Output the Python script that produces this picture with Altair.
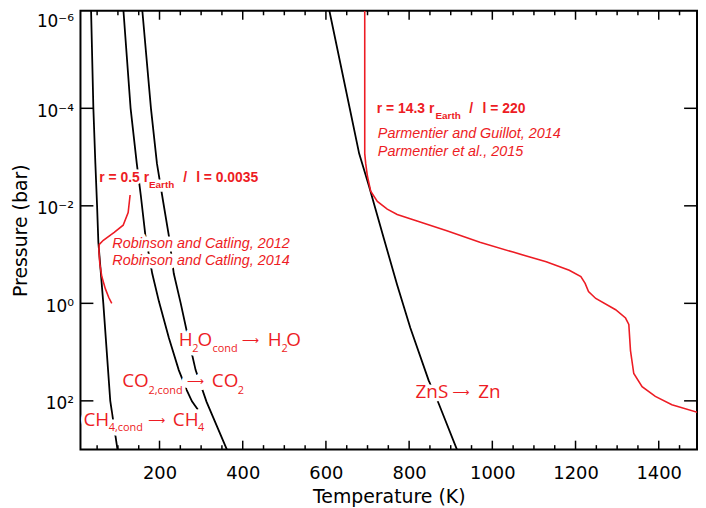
import altair as alt
import pandas as pd

RED = "#ED1C24"
W = 621
H = 442

# ---------------- curves (Temperature in K, Pressure in bar) ----------------
ch4_T = [35.5, 41.0, 45.8, 49.9, 53.0, 64.9, 81.6, 99.0]
ch4_P = [1e-6, 1e-4, 1.35e-3, 1e-2, 5.6e-2, 1.0, 100, 1000]

co2_T = [113.3, 130.5, 145.3, 154.9, 165.8, 182.5, 198.5, 222.4, 246.3, 265.4, 278.0, 292.0]
co2_P = [1e-6, 1e-4, 1.35e-3, 6.0e-3, 3.9e-2, 0.245, 0.91, 5.1, 23.4, 60, 102, 150]

h2o_T = [158.7, 179.4, 193.8, 208.1, 222.4, 234.3, 251.0, 265.4, 286.8, 313.1, 362.0]
h2o_P = [1e-6, 1e-4, 1.35e-3, 7.6e-3, 4.1e-2, 0.245, 1.0, 3.7, 23.4, 105, 1000]

zns_T = [608.3, 657.2, 679.9, 703.8, 739.6, 771.3, 803.0, 846.9, 870.8, 915.0]
zns_P = [1e-6, 1e-4, 8.5e-4, 4.0e-3, 4.8e-2, 0.42, 3.2, 38, 112, 1000]

hot_T = [693.3, 693.3, 695.6, 699.7, 707.6, 723.6, 747.4, 771.3, 819.0, 890.6, 970.1,
         1049.8, 1129.5, 1184.9, 1212.8, 1223.1, 1231.2, 1248.6, 1296.4, 1320.2, 1328.1,
         1332.1, 1340.0, 1360.0, 1391.8, 1431.6, 1499.2]
hot_P = [1e-6, 8.5e-4, 1.35e-3, 2.45e-3, 5.0e-3, 8.1e-3, 1.17e-2, 1.51e-2, 2.04e-2, 3.24e-2,
         5.6e-2, 8.9e-2, 0.141, 0.209, 0.282, 0.389, 0.575, 0.794, 1.35, 2.0, 2.7, 9.3,
         27.5, 51, 81, 120, 178]

cold_T = [129.3, 124.6, 112.6, 91.1, 64.9, 55.3, 54.2, 56.5, 61.3, 69.7, 78.0, 85.2]
cold_P = [6.0e-3, 1.38e-2, 2.5e-2, 3.5e-2, 5.1e-2, 6.2e-2, 8.1e-2, 0.155, 0.282, 0.50, 0.76, 1.0]

# ---------------- axis ticks ----------------
x_major = [200, 400, 600, 800, 1000, 1200, 1400]
x_minor = [50, 100, 150, 250, 300, 350, 450, 500, 550, 650, 700, 750, 850, 900, 950,
           1050, 1100, 1150, 1250, 1300, 1350, 1450]
y_major = [1e-4, 1e-2, 1, 1e2]
y_tick_values = [1e-6, 1e-4, 1e-2, 1, 1e2]
y_tick_labels = ["10⁻⁶", "10⁻⁴", "10⁻²", "10⁰", "10²"]

# ---------------- annotations ----------------
bold_text = ["r = 0.5 r", "/", "l = 0.0035", "r = 14.3 r", "/", "l = 220"]
bold_T = [55.3, 257.0, 288.0, 722.4, 944.3, 976.5]
bold_P = [2.72e-3, 2.72e-3, 2.72e-3, 1.05e-4, 1.05e-4, 1.05e-4]

boldsub_text = ["Earth", "Earth"]
boldsub_T = [174.7, 863.2]
boldsub_P = [3.82e-3, 1.47e-4]

ital_text = ["Robinson and Catling, 2012", "Robinson and Catling, 2014",
             "Parmentier and Guillot, 2014", "Parmentier et al., 2015"]
ital_T = [86.4, 86.4, 724.8, 724.8]
ital_P = [0.0614, 0.135, 3.43e-4, 7.93e-4]

big_text = ["H", "O", "H", "O", "CO", "CO", "CH", "CH", "ZnS", "Zn"]
big_T = [246.3, 291.6, 460.3, 504.7, 110.2, 325.7, 17.2, 231.9, 815.4, 966.3]
big_P = [5.68, 5.68, 5.68, 5.68, 39.4, 39.4, 242, 242, 66.7, 66.7]

sub_text = ["2", "cond", "2", "2,cond", "2", "4,cond", "4"]
sub_T = [278.5, 327.4, 493.3, 173.5, 388.3, 78.0, 292.8]
sub_P = [8.49, 8.49, 8.49, 61.9, 61.9, 356, 356]

arrow_text = ["⟶", "⟶", "⟶", "⟶"]
arrow_T = [397.8, 265.4, 172.3, 903.7]
arrow_P = [5.68, 39.4, 242, 66.7]

# ---------------- scales / axes ----------------
xs = alt.Scale(domain=[10, 1492], nice=False, zero=False)
ys = alt.Scale(type="log", domain=[1e-6, 1e3], reverse=True, nice=False)

expr = "'%s'" % y_tick_labels[-1]
for v, lab in reversed(list(zip(y_tick_values[:-1], y_tick_labels[:-1]))):
    expr = "datum.value < %g ? '%s' : %s" % (v * 3, lab, expr)

xa = alt.Axis(values=x_major, format="d", title="Temperature (K)", labelPadding=15,
              titlePadding=5, labelFontSize=18, titleFontSize=19)
ya = alt.Axis(values=y_tick_values, labelExpr=expr, title="Pressure (bar)", labelPadding=7,
              labelFlush=True, labelOffset=3, titlePadding=6, labelFontSize=17,
              titleFontSize=19)

X = alt.X("T:Q", scale=xs, axis=xa)
Y = alt.Y("P:Q", scale=ys, axis=ya)


def curve(T, P, color, width):
    df = pd.DataFrame({"T": T, "P": P, "i": list(range(len(T)))})
    return alt.Chart(df).mark_line(clip=True, color=color, strokeWidth=width).encode(
        x=X, y=Y, order="i:Q")


def texts(txt, T, P, size, font, weight, style, halo_w, halo=False):
    df = pd.DataFrame({"text": txt, "T": T, "P": P})
    kw = dict(align="left", baseline="middle", font=font, fontSize=size,
              fontWeight=weight, fontStyle=style)
    if halo:
        m = alt.Chart(df).mark_text(fill="white", stroke="white", strokeWidth=halo_w,
                                    strokeJoin="round", clip=True, **kw)
    else:
        m = alt.Chart(df).mark_text(fill=RED, **kw)
    return m.encode(x=X, y=Y, text="text:N")


def xticks(vals, y0, y1):
    df = pd.DataFrame({"T": vals})
    return alt.Chart(df).mark_rule(color="black", strokeWidth=1.5).encode(
        x=X, y=alt.value(y0), y2=alt.value(y1))


def yticks(vals, x0, x1):
    df = pd.DataFrame({"P": vals})
    return alt.Chart(df).mark_rule(color="black", strokeWidth=1.5).encode(
        y=Y, x=alt.value(x0), x2=alt.value(x1))


layers = [
    xticks(x_major, 0, 9), xticks(x_minor, 0, 4.5),
    xticks(x_major, H, H - 9), xticks(x_minor, H, H - 4.5),
    yticks(y_major, 0, 13), yticks(y_major, W - 13, W),
    curve(ch4_T, ch4_P, "black", 1.8),
    curve(co2_T, co2_P, "black", 1.8),
    curve(h2o_T, h2o_P, "black", 1.8),
    curve(zns_T, zns_P, "black", 1.8),
    curve(hot_T, hot_P, RED, 1.6),
    curve(cold_T, cold_P, RED, 1.6),
]

groups = [
    (bold_text, bold_T, bold_P, 14, "Liberation Sans", "bold", "normal", 5),
    (boldsub_text, boldsub_T, boldsub_P, 10, "Liberation Sans", "bold", "normal", 7),
    (ital_text, ital_T, ital_P, 14.5, "Liberation Sans", "normal", "italic", 7),
    (big_text, big_T, big_P, 19, "Open Sans", "normal", "normal", 7),
    (sub_text, sub_T, sub_P, 11, "Open Sans", "normal", "normal", 7),
    (arrow_text, arrow_T, arrow_P, 12, "DejaVu Sans", "normal", "normal", 12),
]
for g in groups:
    layers.append(texts(*g, halo=True))
for g in groups:
    layers.append(texts(*g))

chart = alt.layer(*layers).properties(
    width=W, height=H,
    padding={"left": 73, "top": 1, "right": 1, "bottom": 57},
    autosize=alt.AutoSizeParams(type="none"),
).configure_view(stroke="black", strokeWidth=2).configure_axis(
    grid=False, ticks=False, domain=False, labelFont="DejaVu Sans",
    titleFont="DejaVu Sans", labelColor="black", titleColor="black",
    titleFontWeight="normal")

chart.save("out.html", embed_options={"renderer": "svg", "actions": False})
